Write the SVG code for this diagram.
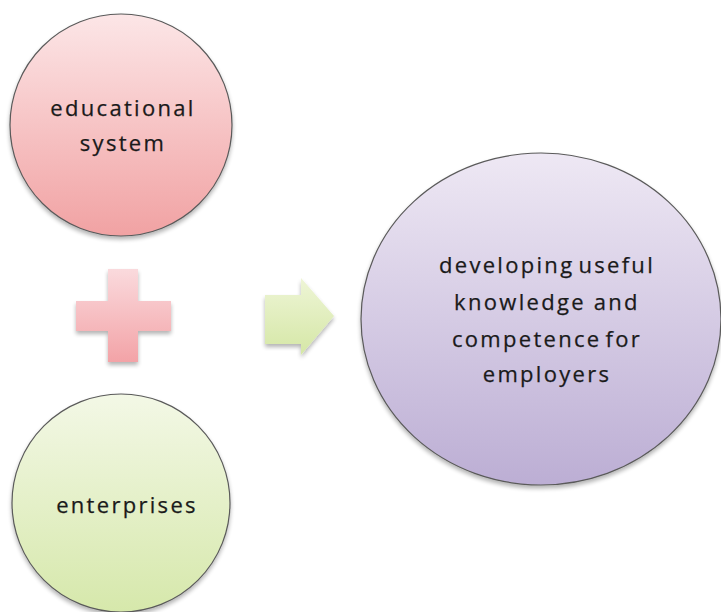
<svg xmlns="http://www.w3.org/2000/svg" width="721" height="612" viewBox="0 0 721 612">
<defs>
<linearGradient id="gRed" x1="0" y1="0" x2="0" y2="1"><stop offset="0" stop-color="#fce6e7"/><stop offset="1" stop-color="#f1a2a3"/></linearGradient>
<linearGradient id="gGreen" x1="0" y1="0" x2="0" y2="1"><stop offset="0" stop-color="#f3f8e6"/><stop offset="1" stop-color="#d6e8ab"/></linearGradient>
<linearGradient id="gPurple" x1="0" y1="0" x2="0" y2="1"><stop offset="0" stop-color="#eee8f4"/><stop offset="1" stop-color="#bcaed4"/></linearGradient>
<linearGradient id="gPlus" x1="0" y1="0" x2="0" y2="1"><stop offset="0" stop-color="#fadadd"/><stop offset="1" stop-color="#f3a3a7"/></linearGradient>
<linearGradient id="gArrow" x1="0" y1="0" x2="0" y2="1"><stop offset="0" stop-color="#eef5d6"/><stop offset="1" stop-color="#d5e7a6"/></linearGradient>
<filter id="sh" x="-20%" y="-20%" width="140%" height="140%"><feGaussianBlur in="SourceAlpha" stdDeviation="2"/><feOffset dx="0" dy="3"/><feComponentTransfer><feFuncA type="linear" slope="0.3"/></feComponentTransfer><feMerge><feMergeNode/><feMergeNode in="SourceGraphic"/></feMerge></filter>
</defs>
<style>
.node{stroke:#5a5a5a;stroke-width:1.2}
.t{font-family:"Open Sans","DejaVu Sans",sans-serif;font-size:22px;fill:#1a1a1a;text-anchor:middle;letter-spacing:2.3px;stroke:#1a1a1a;stroke-width:0.25}
.tight{word-spacing:-4px}
</style>
<rect width="721" height="612" fill="#ffffff"/>
<g id="educational-system">
<circle class="node" cx="121" cy="125" r="111" fill="url(#gRed)" filter="url(#sh)"/>
<text class="t" x="123" y="116">educational</text>
<text class="t" x="123" y="151">system</text>
</g>
<g id="plus">
<path d="M108,269 H138 V301 H171 V331 H138 V362 H108 V331 H76 V301 H108 Z" fill="url(#gPlus)" filter="url(#sh)"/>
</g>
<g id="enterprises">
<circle class="node" cx="121" cy="503" r="109" fill="url(#gGreen)" filter="url(#sh)"/>
<text class="t" x="127" y="513">enterprises</text>
</g>
<g id="connectors">
<path d="M265,295 H301 V278 L334,316 L301,355 V344 H265 Z" fill="url(#gArrow)" filter="url(#sh)"/>
</g>
<g id="outcome">
<ellipse class="node" cx="541" cy="319" rx="180" ry="166" fill="url(#gPurple)" filter="url(#sh)"/>
<text class="t tight" x="547" y="273">developing useful</text>
<text class="t" x="547" y="310">knowledge and</text>
<text class="t tight" x="547" y="347">competence for</text>
<text class="t" x="547" y="382">employers</text>
</g>
</svg>
